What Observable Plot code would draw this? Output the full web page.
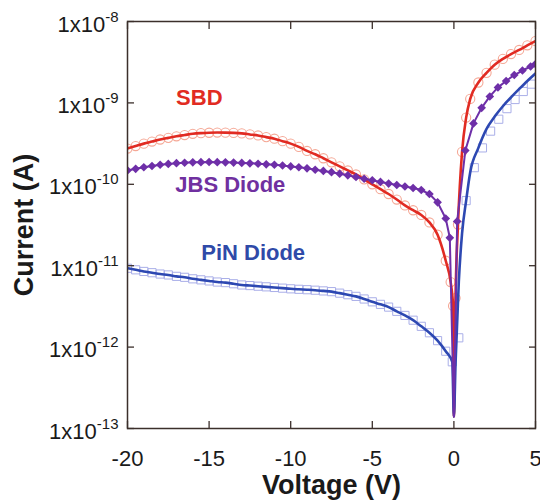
<!DOCTYPE html>
<html><head><meta charset="utf-8">
<script src="https://cdn.jsdelivr.net/npm/d3@7"></script>
<script src="https://cdn.jsdelivr.net/npm/@observablehq/plot@0.6"></script>
<style>body{margin:0;background:#fff;}</style>
</head><body><div id="chart"></div>
<script>
// ---- data ----
const vGrid = [-20,-19.5,-19,-18.5,-18,-17.5,-17,-16.5,-16,-15.5,-15,-14.5,-14,-13.5,-13,-12.5,-12,-11.5,-11,-10.5,-10,-9.5,-9,-8.5,-8,-7.5,-7,-6.5,-6,-5.5,-5,-4.5,-4,-3.5,-3,-2.5,-2,-1.5,-1,-0.5];

const sbdReverse = [2.75e-10,2.95e-10,3.16e-10,3.35e-10,3.55e-10,3.72e-10,3.89e-10,4.03e-10,4.17e-10,4.25e-10,4.30e-10,4.32e-10,4.31e-10,4.28e-10,4.22e-10,4.10e-10,3.98e-10,3.80e-10,3.63e-10,3.39e-10,3.16e-10,2.88e-10,2.57e-10,2.34e-10,2.09e-10,1.86e-10,1.66e-10,1.48e-10,1.32e-10,1.15e-10,1.0e-10,8.7e-11,7.6e-11,6.5e-11,5.5e-11,4.8e-11,4.2e-11,3.4e-11,2.4e-11,1.15e-11];
const jbsReverse = [1.48e-10,1.55e-10,1.62e-10,1.68e-10,1.74e-10,1.78e-10,1.82e-10,1.84e-10,1.86e-10,1.87e-10,1.88e-10,1.87e-10,1.86e-10,1.85e-10,1.83e-10,1.81e-10,1.79e-10,1.76e-10,1.74e-10,1.70e-10,1.66e-10,1.62e-10,1.57e-10,1.51e-10,1.46e-10,1.41e-10,1.35e-10,1.29e-10,1.23e-10,1.17e-10,1.12e-10,1.07e-10,1.02e-10,9.8e-11,9.4e-11,9.0e-11,8.5e-11,7.6e-11,6.0e-11,3.8e-11];
const pinReverse = [9.3e-12,8.9e-12,8.5e-12,8.2e-12,7.9e-12,7.7e-12,7.4e-12,7.2e-12,6.9e-12,6.7e-12,6.5e-12,6.3e-12,6.2e-12,6.0e-12,5.8e-12,5.7e-12,5.6e-12,5.5e-12,5.4e-12,5.3e-12,5.2e-12,5.13e-12,5.07e-12,5.0e-12,4.9e-12,4.8e-12,4.6e-12,4.4e-12,4.2e-12,3.9e-12,3.6e-12,3.35e-12,3.1e-12,2.75e-12,2.45e-12,2.14e-12,1.8e-12,1.5e-12,1.2e-12,8.9e-13];

const sbdFwdV = [-0.2,-0.05,0,0.1,0.25,0.5,0.75,1,1.5,2,2.5,3,3.5,4,4.5,5];
const sbdFwdI = [6.3e-12,3.2e-12,1.4e-13,4.0e-12,3.2e-11,2.5e-10,6.6e-10,1.12e-9,1.78e-9,2.34e-9,2.95e-9,3.47e-9,3.98e-9,4.47e-9,5.1e-9,5.75e-9];
const jbsFwdV = [-0.25,0,0.2,0.7,1.2,1.7,2.2,2.7,3.2,3.7,4.2,4.7,5];
const jbsFwdI = [2.2e-11,1.4e-13,3.5e-11,2.6e-10,5.6e-10,8.7e-10,1.2e-9,1.55e-9,1.86e-9,2.2e-9,2.5e-9,2.8e-9,3.0e-9];
const pinFwdV = [-0.1,0,0.1,0.3,0.5,0.75,1,1.5,2,2.5,3,3.5,4,4.5,5];
const pinFwdI = [6.6e-13,1.4e-13,6.3e-13,6.3e-12,2.5e-11,6.3e-11,1.41e-10,2.8e-10,4.8e-10,6.8e-10,9.1e-10,1.17e-9,1.48e-9,1.86e-9,2.3e-9];
const pinSquareV = [0.3,0.75,1.25,1.75,2.25,2.75,3.25,3.75,4.25,4.75];
const pinSquareI = [1.3e-12,6.3e-11,1.6e-10,2.8e-10,4.5e-10,6.3e-10,8.5e-10,1.1e-9,1.38e-9,1.7e-9];

const seriesNames = ["SBD", "JBS Diode", "PiN Diode"];
const labelV = [-15.6, -13.7, -12.3];
const labelI = [1.16e-9, 9.7e-11, 1.45e-11];

const xTicks = [-20,-15,-10,-5,0,5];
const xTickLabels = ["-20","-15","-10","-5","0","5"];
const yTicks = [1e-13,1e-12,1e-11,1e-10,1e-9,1e-8];
const yTickBase = "1x10";
const yTickExp = ["-13","-12","-11","-10","-9","-8"];
const xTitle = "Voltage (V)";
const yTitle = "Current (A)";

// ---- build rows ----
const rows = (vs, is) => vs.map((v, k) => ({v, i: is[k]}));
const sbd = rows(vGrid.concat(sbdFwdV), sbdReverse.concat(sbdFwdI));
const jbs = rows(vGrid.concat(jbsFwdV), jbsReverse.concat(jbsFwdI));
const pin = rows(vGrid.concat(pinFwdV), pinReverse.concat(pinFwdI));
const pinMarks = pin.filter(d => d.v < 0).concat(rows(pinSquareV, pinSquareI));

const red = "#e12b22", purple = "#6e2fa8", blue = "#2d48b2";
const labelColors = [red, "#7030a0", "#2f4aa8"];
const axisColor = "#3b2f2b";

const chart = Plot.plot({
  width: 540, height: 504,
  marginLeft: 127, marginRight: 5, marginTop: 21, marginBottom: 76,
  x: {domain: [-20, 5]},
  y: {type: "log", domain: [1e-13, 1e-8]},
  style: {fontFamily: "'Liberation Sans', Arial, sans-serif", fontSize: "22px", background: "#fff", color: "#1a1a1a"},
  marks: [
    Plot.dot(sbd.filter(d => d.v !== 0), {x: "v", y: "i", r: 4.6, stroke: "#f5a896", strokeWidth: 1.1, fill: "none", clip: true}),
    Plot.dot(pinMarks, {x: "v", y: "i", symbol: "square", r: 4.6, stroke: "#a9aee8", strokeWidth: 1, fill: "none", clip: true}),
    Plot.line(sbd, {x: "v", y: "i", stroke: red, strokeWidth: 2.6, curve: "monotone-x", clip: true}),
    Plot.line(pin, {x: "v", y: "i", stroke: blue, strokeWidth: 2.6, curve: "monotone-x", clip: true}),
    Plot.line(jbs, {x: "v", y: "i", stroke: purple, strokeWidth: 2, curve: "linear", clip: true}),
    Plot.dot(jbs.filter(d => d.v !== 0), {x: "v", y: "i", symbol: "diamond2", r: 3.9, fill: purple, stroke: "none", clip: true}),
    Plot.frame({stroke: axisColor, strokeWidth: 1.5}),
    // ticks (inward)
    Plot.axisX({anchor: "bottom", ticks: xTicks, tickSize: -7, tickFormat: () => "", label: null, stroke: axisColor, strokeWidth: 1.3}),
    Plot.axisX({anchor: "top", ticks: xTicks, tickSize: -7, tickFormat: () => "", label: null, stroke: axisColor, strokeWidth: 1.3}),
    Plot.axisY({anchor: "left", ticks: yTicks, tickSize: -7, tickFormat: () => "", label: null, stroke: axisColor, strokeWidth: 1.3}),
    Plot.axisY({anchor: "right", ticks: yTicks, tickSize: -7, tickFormat: () => "", label: null, stroke: axisColor, strokeWidth: 1.3}),
    // tick labels
    Plot.axisX({anchor: "bottom", ticks: xTicks, tickSize: 0, tickPadding: 22, label: null, fontSize: 22,
      tickFormat: d => xTickLabels[xTicks.indexOf(d)]}),
    Plot.axisY({anchor: "left", ticks: yTicks, tickSize: 0, tickPadding: 9, dy: 3, label: null, fontSize: 22,
      tickFormat: d => yTickBase + "^" + yTickExp[yTicks.indexOf(d)]}),
    // series labels
    ...seriesNames.map((name, k) => Plot.text([name], {x: () => labelV[k], y: () => labelI[k], text: d => d,
      fill: labelColors[k], fontSize: 22, fontWeight: "bold"})),
    // axis titles
    Plot.text([xTitle], {frameAnchor: "bottom", dy: 57, lineAnchor: "middle", text: d => d, fontSize: 27, fontWeight: "bold", fill: "#1a1a1a"}),
    Plot.text([yTitle], {frameAnchor: "left", dx: -103, rotate: -90, textAnchor: "middle", lineAnchor: "middle", text: d => d, fontSize: 27, fontWeight: "bold", fill: "#1a1a1a"})
  ]
});

// superscript exponents on the y tick labels
const NS = "http://www.w3.org/2000/svg";
chart.querySelectorAll('g[aria-label="y-axis tick label"] text').forEach(t => {
  const s = t.textContent;
  if (!s.includes("^")) return;
  const [b, e] = s.split("^");
  t.textContent = b;
  const ts = document.createElementNS(NS, "tspan");
  ts.setAttribute("dy", "-10");
  ts.setAttribute("font-size", "15");
  ts.textContent = e;
  t.appendChild(ts);
});

document.getElementById("chart").appendChild(chart);
</script>
</body></html>
